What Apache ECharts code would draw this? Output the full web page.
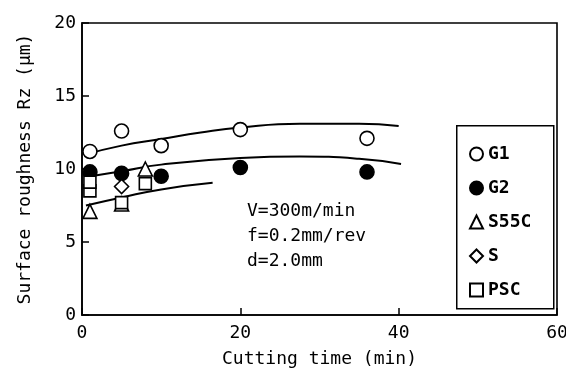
<!DOCTYPE html>
<html>
<head>
<meta charset="utf-8">
<script src="https://cdn.jsdelivr.net/npm/echarts@6/dist/echarts.min.js"></script>
<style>
  html, body { margin: 0; padding: 0; background: #fff; }
  #chart { width: 566px; height: 376px; }
</style>
</head>
<body>
<div id="chart"></div>
<script>
// measured points, [cutting time (min), Rz (um)]
const g1 = [[1, 11.2], [5, 12.6], [10, 11.6], [20, 12.7], [36, 12.1]]
const g2 = [[1, 9.8], [5, 9.7], [10, 9.5], [20, 10.1], [36, 9.8]]
const s55c = [[1, 7.1], [5, 7.6], [8, 10.0]]
const sSteel = [[5, 8.8]]
const psc = [[1, 8.5], [1, 9.1], [5, 7.7], [8, 9.0]]

// fitted curves
const curveG1 = [[0.5, 11.0], [5, 11.6], [10, 12.05], [15, 12.5], [20, 12.85], [27.5, 13.1], [35, 13.1], [40, 12.95]]
const curveG2 = [[0.5, 9.45], [5, 9.85], [10, 10.3], [20, 10.75], [27.5, 10.85], [35, 10.7], [40.3, 10.35]]
const curveLow = [[0.5, 7.5], [5, 8.05], [10, 8.6], [16.5, 9.05]]

const xTicks = [0, 20, 40, 60]
const yTicks = [0, 5, 10, 15, 20]

const FONT = 'DejaVu Sans Mono'

const chart = echarts.init(document.getElementById('chart'))

function pts (name, data, symbol, size, filled) {
  return {
    name: name,
    type: 'scatter',
    data: data,
    symbol: symbol,
    symbolSize: size,
    z: 5,
    itemStyle: {
      color: filled ? '#000' : '#fff',
      borderColor: '#000',
      borderWidth: 1.6,
      opacity: 1
    }
  }
}

function curve (data) {
  return {
    type: 'line',
    data: data,
    smooth: true,
    showSymbol: false,
    silent: true,
    z: 3,
    lineStyle: { color: '#000', width: 2 }
  }
}

const option = {
  animation: false,
  backgroundColor: '#fff',
  textStyle: { fontFamily: FONT, color: '#000' },
  grid: {
    left: 82, right: 9, top: 23, bottom: 61,
    outerBoundsMode: 'none',
    show: true, borderColor: '#000', borderWidth: 1.6
  },
  xAxis: {
    type: 'value',
    min: xTicks[0], max: xTicks[xTicks.length - 1], interval: 20,
    name: 'Cutting time (min)',
    nameLocation: 'middle',
    nameGap: 35,
    nameTextStyle: { fontFamily: FONT, fontSize: 18, color: '#000' },
    axisLine: { lineStyle: { color: '#000', width: 1.6 } },
    axisTick: { inside: true, length: 7, lineStyle: { color: '#000', width: 1.5 } },
    axisLabel: { fontFamily: FONT, fontSize: 18, color: '#000', margin: 9 },
    splitLine: { show: false }
  },
  yAxis: {
    type: 'value',
    min: yTicks[0], max: yTicks[yTicks.length - 1], interval: 5,
    name: 'Surface roughness Rz (μm)',
    nameLocation: 'middle',
    nameGap: 48,
    nameRotate: 90,
    nameTextStyle: { fontFamily: FONT, fontSize: 18, color: '#000' },
    axisLine: { lineStyle: { color: '#000', width: 1.6 } },
    axisTick: { inside: true, length: 7, lineStyle: { color: '#000', width: 1.5 } },
    axisLabel: { fontFamily: FONT, fontSize: 18, color: '#000', margin: 6 },
    splitLine: { show: false }
  },
  legend: {
    orient: 'vertical',
    left: 464, top: 140,
    itemWidth: 13, itemHeight: 13,
    itemGap: 16,
    textStyle: { fontFamily: FONT, fontSize: 18, color: '#000', fontWeight: 'bold' },
    data: ['G1', 'G2', 'S55C', 'S', 'PSC']
  },
  graphic: [
    {
      type: 'rect', left: 456, top: 125, z: 2,
      shape: { width: 97, height: 183 },
      style: { fill: '#fff', stroke: '#000', lineWidth: 1.5 }
    },
    {
      type: 'text', left: 247, top: 199, z: 4,
      style: {
        text: 'V=300m/min\nf=0.2mm/rev\nd=2.0mm',
        fontFamily: FONT, fontSize: 18, lineHeight: 25, fill: '#000'
      }
    }
  ],
  series: [
    curve(curveG1),
    curve(curveG2),
    curve(curveLow),
    pts('G1', g1, 'circle', 14, false),
    pts('G2', g2, 'circle', 14, true),
    pts('S55C', s55c, 'triangle', 14, false),
    pts('S', sSteel, 'diamond', 14, false),
    pts('PSC', psc, 'rect', 12, false)
  ]
}

chart.setOption(option)
</script>
</body>
</html>
